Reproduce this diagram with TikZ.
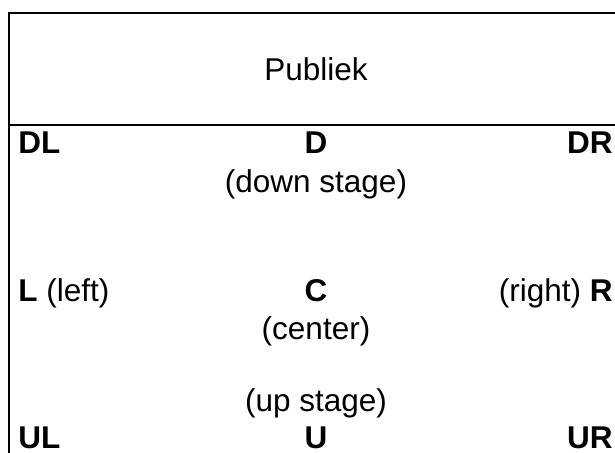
\documentclass[tikz,border=0pt]{standalone}
\usepackage{fontspec}
\setmainfont{Liberation Sans}
\usetikzlibrary{positioning}

\begin{document}
\begin{tikzpicture}[x=0.5pt,y=-0.5pt,
        every node/.style={inner sep=0pt, font=\fontsize{15.75}{19}\selectfont},
        spot/.style={anchor=base, font=\fontsize{15.75}{19}\selectfont\bfseries},
        hint/.style={anchor=base},
        rule/.style={line width=1pt}]
    \useasboundingbox (0,0) rectangle (615,453);
    % zaal en toneel
    \draw[rule] (615,13) -- (9,13) -- (9,453);
    \draw[rule] (9,125) -- (615,125);
    \node[hint] (publiek) at (316,81) {Publiek};
    % voorkant
    \node[spot, anchor=base west] (dl) at (18,154) {DL};
    \node[spot] (d) at (316,154) {D};
    \node[spot, anchor=base east] (dr) at (613,154) {DR};
    \node[hint] (down) at (316,193) {(down stage)};
    % midden
    \node[hint, anchor=base west] (l) at (18,302) {\textbf{L} (left)};
    \node[spot] (c) at (316,302) {C};
    \node[hint, anchor=base east] (r) at (613,302) {(right) \textbf{R}};
    \node[hint] (center) at (316,340) {(center)};
    % achterkant
    \node[hint] (up) at (316,412) {(up stage)};
    \node[spot, anchor=base west] (ul) at (18,449) {UL};
    \node[spot] (u) at (316,449) {U};
    \node[spot, anchor=base east] (ur) at (613,449) {UR};
\end{tikzpicture}
\end{document}
